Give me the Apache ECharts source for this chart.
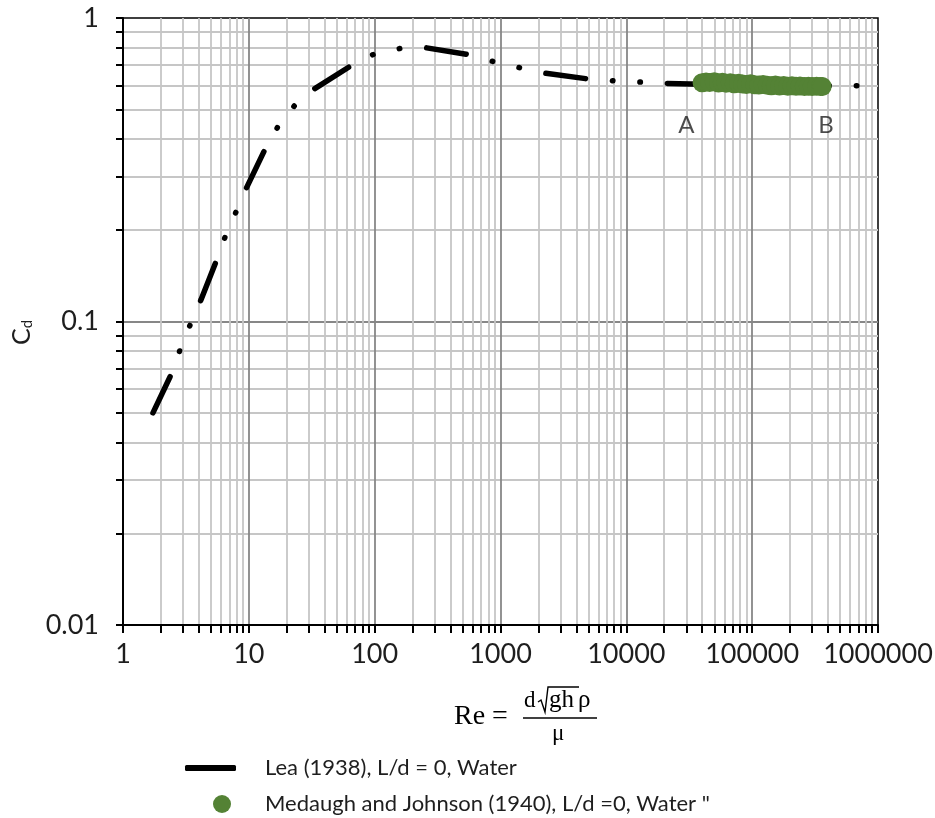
<!DOCTYPE html>
<html>
<head>
<meta charset="utf-8">
<script src="https://cdn.jsdelivr.net/npm/echarts@6/dist/echarts.min.js"></script>
<style>
  html, body { margin: 0; padding: 0; background: #fff; }
  #chart { width: 935px; height: 818px; }
</style>
</head>
<body>
<div id="chart"></div>
<script>
// Lea (1938), L/d = 0, water  (Re, Cd)
var leaRe = [1.73, 2.5, 2.89, 3.47, 4.17, 5.7, 6.6, 8.0, 9.6, 13.9, 17.4, 23.4, 33, 68, 102, 162, 256, 590, 912, 1440, 2150, 5200, 8180, 13100, 20400, 40000, 100000, 200000, 443000, 708000];
var leaCd = [0.050, 0.069, 0.0824, 0.099, 0.118, 0.164, 0.194, 0.232, 0.276, 0.38, 0.445, 0.518, 0.583, 0.705, 0.765, 0.795, 0.798, 0.755, 0.715, 0.685, 0.66, 0.628, 0.62, 0.615, 0.609, 0.605, 0.601, 0.599, 0.598, 0.598];

// Medaugh and Johnson (1940), L/d = 0, water
var mjRe = [40000, 43000, 46000, 50000, 54000, 58000, 62000, 67000, 72000, 78000, 84000, 90000, 97000, 105000, 113000, 122000, 132000, 142000, 153000, 165000, 178000, 192000, 207000, 223000, 240000, 260000, 280000, 300000, 325000, 350000, 360000];
var mjCd = [0.612, 0.615, 0.613, 0.616, 0.611, 0.614, 0.610, 0.612, 0.607, 0.610, 0.606, 0.604, 0.607, 0.603, 0.601, 0.604, 0.600, 0.598, 0.601, 0.597, 0.599, 0.596, 0.598, 0.596, 0.597, 0.595, 0.596, 0.595, 0.596, 0.595, 0.595];

// range labels A / B
var markText = ['A', 'B'];
var markRe = [30000, 387000];
var markCd = [0.444, 0.444];

var leaName = 'Lea (1938), L/d = 0, Water';
var mjName = 'Medaugh and Johnson (1940), L/d =0, Water "';

// 1..9 per decade, for ticks and grid lines
function logTicks(lo, hi) {
  var out = [];
  for (var e = lo; e < hi; e++) {
    for (var m = 1; m < 10; m++) out.push(Number((m * Math.pow(10, e)).toPrecision(6)));
  }
  out.push(Number(Math.pow(10, hi).toPrecision(6)));
  return out;
}
var xTicks = logTicks(0, 6);
var yTicks = logTicks(-2, 0);

var major = '#878787', minor = '#c6c6c6';
// min line is skipped, so the colour cycle starts at "2"
var gridColors = [minor, minor, minor, minor, minor, minor, minor, minor, major];

var font = 'Lato, "Open Sans", sans-serif';
var serif = '"Liberation Serif", serif';
var fmt = function (v) { return String(Number(Number(v).toPrecision(6))); };

var chart = echarts.init(document.getElementById('chart'));
chart.setOption({
  animation: false,
  grid: {
    left: 123, right: 57, top: 18, bottom: 193,
    show: true, borderColor: '#000', borderWidth: 1.5,
    containLabel: false, outerBoundsMode: 'none'
  },
  xAxis: {
    type: 'log', logBase: 10, min: 1, max: 1000000,
    axisLine: { lineStyle: { color: '#000', width: 2 } },
    axisTick: { show: true, inside: false, length: 8, customValues: xTicks, lineStyle: { color: '#000', width: 2 } },
    axisLabel: { margin: 16, color: '#1e1e1e', fontSize: 27, fontFamily: font, formatter: fmt },
    splitLine: { show: true, showMinLine: false, showMaxLine: false, lineStyle: { color: gridColors, width: 1.8 } }
  },
  yAxis: {
    type: 'log', logBase: 10, min: 0.01, max: 1,
    name: '{c|C}{d|d}',
    nameLocation: 'middle', nameGap: 88, nameRotate: 90,
    nameTextStyle: {
      padding: [0, 22, 0, 0],
      rich: {
        c: { fontSize: 25, fontFamily: font, color: '#1e1e1e' },
        d: { fontSize: 15, fontFamily: font, color: '#1e1e1e', verticalAlign: 'bottom', padding: [10, 0, 0, 0] }
      }
    },
    axisLine: { lineStyle: { color: '#000', width: 2 } },
    axisTick: { show: true, inside: false, length: 7, customValues: yTicks, lineStyle: { color: '#000', width: 2 } },
    axisLabel: { margin: 24, color: '#1e1e1e', fontSize: 27, fontFamily: font, formatter: fmt },
    splitLine: { show: true, showMinLine: false, showMaxLine: false, lineStyle: { color: gridColors, width: 1.8 } }
  },
  legend: [{
    data: [{ name: leaName, icon: 'roundRect' }],
    left: 185, top: 757, padding: 0, itemWidth: 51, itemHeight: 6,
    textStyle: { fontSize: 22, fontFamily: font, color: '#1e1e1e', padding: [0, 0, 0, 24] }
  }, {
    data: [{ name: mjName, icon: 'circle' }],
    left: 213, top: 793, padding: 0, itemWidth: 18, itemHeight: 18,
    textStyle: { fontSize: 22, fontFamily: font, color: '#1e1e1e', padding: [0, 0, 0, 29] }
  }],
  series: [{
    name: leaName,
    type: 'line',
    data: leaRe.map(function (x, i) { return [x, leaCd[i]]; }),
    showSymbol: false, symbol: 'none',
    itemStyle: { color: '#000' },
    lineStyle: { color: '#000', width: 5.5, type: [40, 27, 0.5, 27, 0.5, 27], cap: 'round', join: 'round' },
    z: 3
  }, {
    name: mjName,
    type: 'scatter',
    data: mjRe.map(function (x, i) { return [x, mjCd[i]]; }),
    symbol: 'circle', symbolSize: 19,
    itemStyle: { color: '#548235', opacity: 1 },
    z: 4
  }, {
    name: 'labels',
    type: 'scatter',
    data: markRe.map(function (x, i) { return { value: [x, markCd[i]], name: markText[i] }; }),
    symbolSize: 0,
    silent: true,
    label: { show: true, position: 'inside', formatter: '{b}', fontSize: 24, fontFamily: font, color: '#1e1e1e' },
    z: 5
  }],
  // x axis title: Re = d sqrt(gh) rho / mu
  graphic: [
    { type: 'text', left: 454, top: 703, style: { text: 'Re =', font: '28px ' + serif, fill: '#000' } },
    { type: 'text', left: 524, top: 689, style: { text: 'd', font: '23px ' + serif, fill: '#000' } },
    { type: 'polyline', shape: { points: [[538, 702], [541, 700], [545, 712], [548, 687], [579, 687]] }, style: { stroke: '#000', lineWidth: 1.4, fill: null } },
    { type: 'text', left: 549, top: 688, style: { text: 'gh', font: '25px ' + serif, fill: '#000' } },
    { type: 'text', left: 578, top: 688, style: { text: '\u03c1', font: '25px ' + serif, fill: '#000' } },
    { type: 'line', shape: { x1: 523, y1: 718, x2: 597, y2: 718 }, style: { stroke: '#000', lineWidth: 1.5 } },
    { type: 'text', left: 552, top: 722, style: { text: '\u03bc', font: '23px ' + serif, fill: '#000' } }
  ]
});
</script>
</body>
</html>
